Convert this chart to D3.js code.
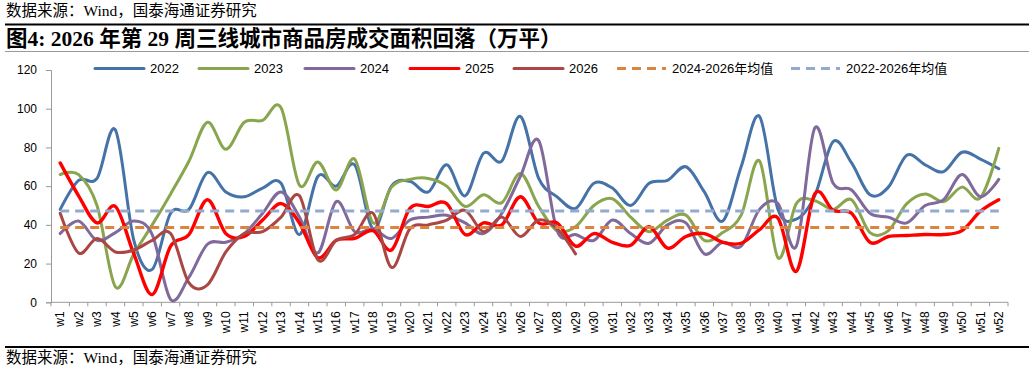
<!DOCTYPE html>
<html><head><meta charset="utf-8">
<script src="https://cdn.jsdelivr.net/npm/d3@7"></script>
<style>
html,body{margin:0;padding:0;background:#fff;}
svg{display:block;}
</style></head>
<body>
<svg id="chart" width="1032" height="372"></svg>
<script>
const weeks = Array.from({length:52},(_,i)=>"w"+(i+1));
const s2022 = [48,63,64,89,32,17,46,48,67,57,54.5,59,61.5,35,65,60,71,38,60,62.5,57,71,55,77,73,96,64,54.5,48.5,61.5,59,50,61.5,63,70,57,42,70,96,48,43,55,83,72,55.5,59.5,76,71,67.5,77.5,74,69];
const s2023 = [66,66,50,8,25,40,56,73,93,79,93,94,100.5,60.5,72.5,58,74,41,59.5,63.5,64,60,49.5,55.5,51.5,66.5,49.5,37,39,50,53.5,44,36.5,42.5,45,32,36,45,73,23,51,52.5,48,53,36,37,51,56,52,59.5,54,79.5];
const s2024 = [35.5,42,32,36,42,35,1.5,13,30,31,35.5,46,57,44,25.5,52,36.5,38,33,42.5,44,45,41,35.5,46,65,83.5,37,35,32,42.5,35.5,30.5,40,41,25,31,29,48,51,29,90,61.5,58,46,44,41,50,53,66,54.5,63.5];
const s2025 = [72,55,41,49.5,25,4,29,35,53,35.5,34,42.5,51,41,23,32,33,37,27,48.5,49.5,51,35,41,40,54.5,41,41,29,35.5,31,29.5,39,28,34,35.5,31,30.5,37.5,43.5,16,56,47.5,46,31,34,34.5,35,35,37,47,53];
const s2026 = [46,25.5,33,26,27,32,35.5,10,9,26,35.5,36.5,44,55,22,32,35,46,18,38,40,42.5,47.5,36.5,44,34,42.5,38,25];
const avg2426 = 38.7;
const avg2226 = 47.2;
const yTicks = [0,20,40,60,80,100,120];
const seriesNames = ["2022","2023","2024","2025","2026"];
const avgNames = ["2024-2026年均值","2022-2026年均值"];
const colors = ["#4572A7","#89A54E","#80699B","#FF0000","#AA4643"];
const avgColors = ["#DB843D","#93A9CF"];

const svg = d3.select("#chart");
const serif = "'Liberation Serif','Times New Roman','Noto Sans CJK SC',serif";
const sans = "'Liberation Sans',Arial,'Noto Sans CJK SC',sans-serif";

// header
svg.append("text").attr("x",6).attr("y",16).attr("font-family",serif).attr("font-size",15.5).attr("fill","#000")
  .text("数据来源：Wind，国泰海通证券研究");
svg.append("line").attr("x1",5).attr("x2",1029).attr("y1",24.5).attr("y2",24.5).attr("stroke","#000").attr("stroke-width",2);
svg.append("text").attr("x",6).attr("y",45.5).attr("font-family",serif).attr("font-size",21.5).attr("font-weight","bold").attr("fill","#000")
  .text("图4:  2026 年第 29 周三线城市商品房成交面积回落（万平）");
svg.append("line").attr("x1",5).attr("x2",1029).attr("y1",51.5).attr("y2",51.5).attr("stroke","#999").attr("stroke-width",1);
// footer
svg.append("line").attr("x1",5).attr("x2",1029).attr("y1",347).attr("y2",347).attr("stroke","#000").attr("stroke-width",2);
svg.append("text").attr("x",6).attr("y",363).attr("font-family",serif).attr("font-size",15.5).attr("fill","#000")
  .text("数据来源：Wind，国泰海通证券研究");

const x = d3.scaleBand().domain(weeks).range([51,1008]).paddingInner(0).paddingOuter(0);
const y = d3.scaleLinear().domain([0,120]).range([302.3,70]);
const cx = w => x(w) + x.bandwidth()/2;

// y axis
const yAxis = svg.append("g").attr("transform","translate(51,0)")
  .call(d3.axisLeft(y).tickValues(yTicks).tickSize(5).tickPadding(9));
yAxis.select(".domain").attr("stroke","#999");
yAxis.selectAll(".tick line").attr("stroke","#999");
yAxis.selectAll("text").attr("font-family",sans).attr("font-size",12).attr("fill","#000");

// x axis
const xAxis = svg.append("g").attr("transform","translate(0,302.3)");
xAxis.append("line").attr("x1",51).attr("x2",1008).attr("y1",0).attr("y2",0).attr("stroke","#999");
const bounds = weeks.map(w=>x(w)).concat([x(weeks[weeks.length-1])+x.bandwidth()]);
xAxis.selectAll("line.tk").data(bounds).enter().append("line").attr("class","tk")
  .attr("x1",d=>d).attr("x2",d=>d).attr("y1",0).attr("y2",4).attr("stroke","#999");
xAxis.selectAll("text").data(weeks).enter().append("text")
  .attr("transform",d=>`translate(${cx(d)},9) rotate(-90)`)
  .attr("text-anchor","end").attr("dy","0.35em")
  .attr("font-family",sans).attr("font-size",12).attr("fill","#000")
  .text(d=>d);

// lines
const line = d3.line().x((d,i)=>cx(weeks[i])).y(d=>y(d)).curve(d3.curveCatmullRom.alpha(0));
const allSeries = [s2022,s2023,s2024,s2025,s2026];
allSeries.forEach((s,k)=>{
  svg.append("path").datum(s).attr("d",line).attr("fill","none")
    .attr("stroke",colors[k]).attr("stroke-width",k===3?3.4:3).attr("stroke-linejoin","round").attr("stroke-linecap","round");
});
[avg2426,avg2226].forEach((v,k)=>{
  svg.append("line").attr("x1",cx(weeks[0])).attr("x2",cx(weeks[51])).attr("y1",y(v)).attr("y2",y(v))
    .attr("stroke",avgColors[k]).attr("stroke-width",3).attr("stroke-dasharray","9,6");
});

// legend
const legendItems = [
  {name:seriesNames[0],color:colors[0],x:95,dash:null},
  {name:seriesNames[1],color:colors[1],x:199,dash:null},
  {name:seriesNames[2],color:colors[2],x:305,dash:null},
  {name:seriesNames[3],color:colors[3],x:410,dash:null},
  {name:seriesNames[4],color:colors[4],x:514,dash:null},
  {name:avgNames[0],color:avgColors[0],x:617,dash:"9,6"},
  {name:avgNames[1],color:avgColors[1],x:791,dash:"9,6"}
];
const lg = svg.append("g");
legendItems.forEach(it=>{
  const l = lg.append("line").attr("x1",it.x).attr("x2",it.x+49).attr("y1",68.5).attr("y2",68.5)
    .attr("stroke",it.color).attr("stroke-width",3);
  if(it.dash) l.attr("stroke-dasharray",it.dash); else l.attr("stroke-linecap","round");
  lg.append("text").attr("x",it.x+55).attr("y",73).attr("font-family",sans).attr("font-size",13).attr("fill","#000").text(it.name);
});
</script>
</body></html>
